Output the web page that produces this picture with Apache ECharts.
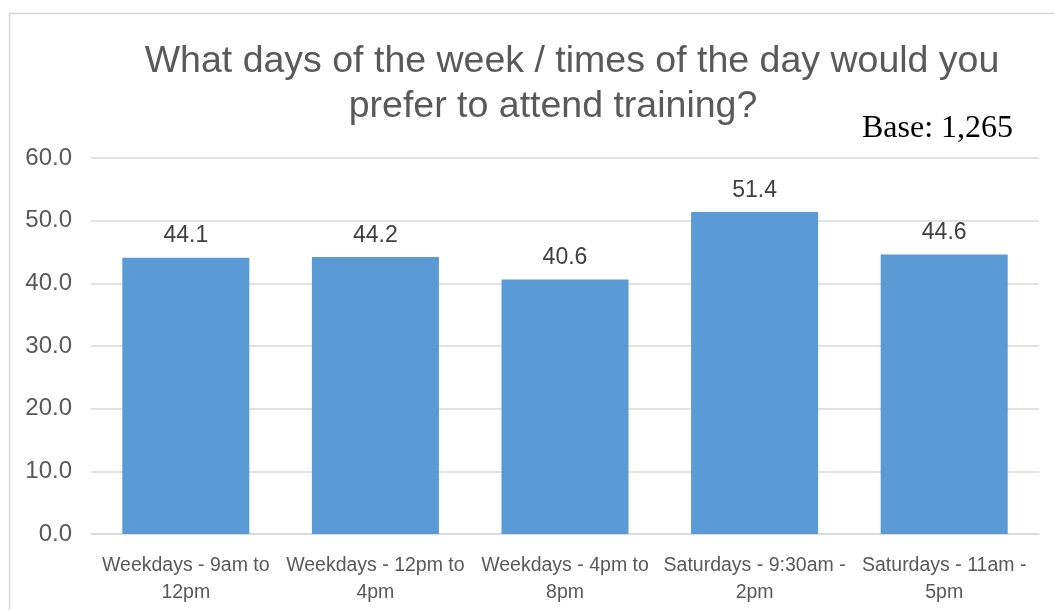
<!DOCTYPE html>
<html>
<head>
<meta charset="utf-8">
<script src="https://cdn.jsdelivr.net/npm/echarts@6/dist/echarts.min.js"></script>
<style>
  html, body { margin: 0; padding: 0; background: #fff; }
  #chart { width: 1054px; height: 610px; }
</style>
</head>
<body>
<div id="chart"></div>
<script>
// data
var categories = [
  'Weekdays - 9am to 12pm',
  'Weekdays - 12pm to 4pm',
  'Weekdays - 4pm to 8pm',
  'Saturdays - 9:30am - 2pm',
  'Saturdays - 11am - 5pm'
];
var percents = [44.1, 44.2, 40.6, 51.4, 44.6];
var yTicks = [0, 10, 20, 30, 40, 50, 60];

var titleLines = ['What days of the week / times of the day would you', 'prefer to attend training?'];
var baseNote = 'Base: 1,265';

var chart = echarts.init(document.getElementById('chart'));
chart.setOption({
  animation: false,
  textStyle: { fontFamily: 'Liberation Sans, Arial, sans-serif' },
  graphic: [
    {
      type: 'rect',
      shape: { x: 9.5, y: 13.5, width: 1060, height: 620 },
      style: { fill: 'none', stroke: '#d9d9d9', lineWidth: 1.5 },
      silent: true
    },
    {
      type: 'text', x: 572, y: 62,
      style: { text: titleLines[0], align: 'center', verticalAlign: 'middle',
        font: '37.5px "Liberation Sans", Arial, sans-serif', fill: '#595959' }
    },
    {
      type: 'text', x: 553, y: 107,
      style: { text: titleLines[1], align: 'center', verticalAlign: 'middle',
        font: '37.5px "Liberation Sans", Arial, sans-serif', fill: '#595959' }
    },
    {
      type: 'text', x: 862, y: 129,
      style: { text: baseNote, align: 'left', verticalAlign: 'middle',
        font: '32px "Liberation Serif", "Times New Roman", serif', fill: '#000' }
    }
  ],
  grid: { left: 91, right: 15, top: 158, bottom: 76, containLabel: false },
  xAxis: {
    type: 'category',
    data: categories,
    axisLine: { lineStyle: { color: '#d9d9d9', width: 1.5 } },
    axisTick: { show: false },
    axisLabel: {
      interval: 0,
      color: '#595959',
      fontSize: 19.5,
      lineHeight: 27,
      margin: 18,
      formatter: function (v) {
        var i = v.lastIndexOf(' ');
        return v.slice(0, i) + '\n' + v.slice(i + 1);
      }
    }
  },
  yAxis: {
    type: 'value',
    min: yTicks[0],
    max: yTicks[yTicks.length - 1],
    interval: yTicks[1] - yTicks[0],
    axisLine: { show: false },
    axisTick: { show: false },
    splitLine: { lineStyle: { color: '#d9d9d9', width: 1.5 } },
    axisLabel: {
      color: '#595959',
      fontSize: 24,
      margin: 19,
      formatter: function (v) { return v.toFixed(1); }
    }
  },
  series: [
    {
      type: 'bar',
      data: percents,
      barWidth: '67%',
      itemStyle: { color: '#5b9bd5' },
      label: {
        show: true,
        position: 'top',
        distance: 10,
        color: '#404040',
        fontSize: 23,
        formatter: function (p) { return p.value.toFixed(1); }
      }
    }
  ]
});
</script>
</body>
</html>
